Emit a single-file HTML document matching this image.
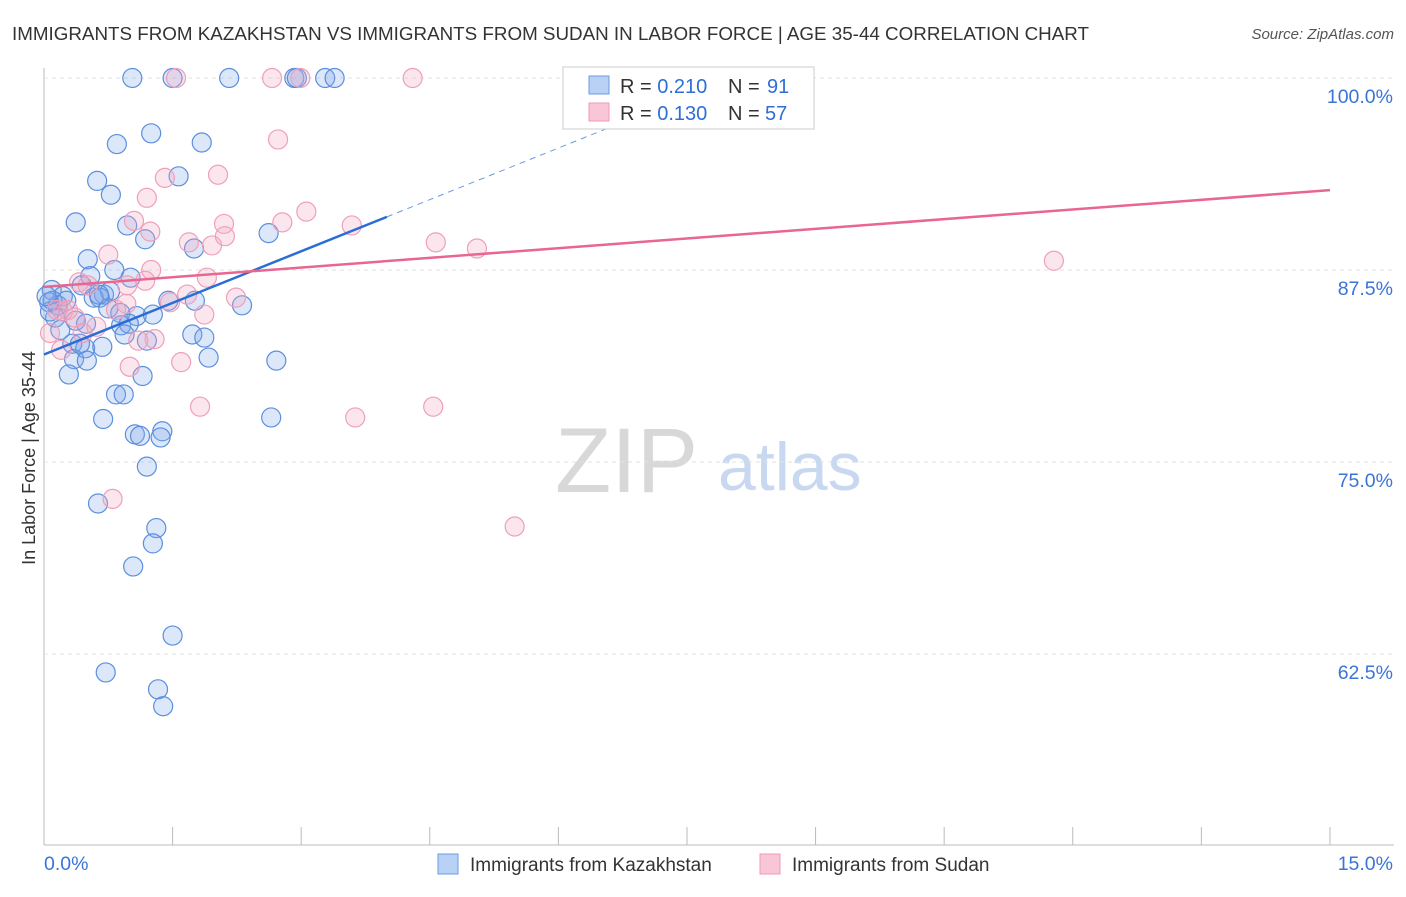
<!DOCTYPE html>
<html><head><meta charset="utf-8"><style>
body{margin:0;background:#fff;font-family:"Liberation Sans",sans-serif}
svg text{font-family:"Liberation Sans",sans-serif}
</style></head><body>
<svg id="chart" width="1406" height="892" xmlns="http://www.w3.org/2000/svg">
<text x="12" y="40" font-size="18.8" fill="#333" textLength="1077">IMMIGRANTS FROM KAZAKHSTAN VS IMMIGRANTS FROM SUDAN IN LABOR FORCE | AGE 35-44 CORRELATION CHART</text>
<text x="1394" y="39" font-size="15" fill="#555" font-style="italic" text-anchor="end">Source: ZipAtlas.com</text>
<text x="35" y="458" font-size="18" fill="#333" text-anchor="middle" transform="rotate(-90 35 458)">In Labor Force | Age 35-44</text>
<text x="555" y="492" font-size="92" fill="#d8d8d8" font-family="Liberation Serif">ZIP</text>
<text x="718" y="490" font-size="68" fill="#c8d8f0">atlas</text>
<g id="grid"></g><g id="pts"></g><g id="lines"></g>
<g>
<rect x="563" y="67" width="251" height="62" fill="#fff" stroke="#ccc"/>
<rect x="589" y="76" width="20" height="18" fill="#b9d1f5" stroke="#6a9be0"/>
<rect x="589" y="103" width="20" height="18" fill="#f8c6d6" stroke="#ee9ab5"/>
<text x="620" y="93" font-size="20" fill="#333">R = <tspan fill="#2e6fd6">0.210</tspan></text>
<text x="728" y="93" font-size="20" fill="#333">N =</text>
<text x="767" y="93" font-size="20" fill="#2e6fd6">91</text>
<text x="620" y="120" font-size="20" fill="#333">R = <tspan fill="#2e6fd6">0.130</tspan></text>
<text x="728" y="120" font-size="20" fill="#333">N =</text>
<text x="765" y="120" font-size="20" fill="#2e6fd6">57</text>
</g>
<g>
<rect x="438" y="854" width="20" height="20" fill="#b9d1f5" stroke="#6a9be0"/>
<text x="470" y="871" font-size="19" fill="#333">Immigrants from Kazakhstan</text>
<rect x="760" y="854" width="20" height="20" fill="#f8c6d6" stroke="#ee9ab5"/>
<text x="792" y="871" font-size="19" fill="#333">Immigrants from Sudan</text>
</g>
</svg>
<script>
const kazX=[1.03,1.50,2.16,2.92,2.95,3.28,3.39,1.25,0.85,1.84,0.62,1.57,0.78,0.37,0.97,1.18,2.62,1.75,0.51,1.01,0.54,0.82,0.44,0.09,0.22,0.70,0.58,0.77,0.65,1.45,1.76,2.31,0.75,1.08,1.27,0.89,0.16,0.06,0.13,0.37,0.19,0.49,0.90,0.99,0.94,1.20,1.73,1.87,0.33,0.48,0.68,0.35,0.50,1.92,2.71,0.29,1.15,0.84,0.93,0.69,2.65,1.06,1.12,1.38,1.36,1.20,0.63,1.31,1.27,1.04,1.50,0.72,1.33,1.39,0.07,0.10,0.26,0.03,0.42,0.64];
const kazY=[100,100,100,100,100,100,100,96.4,95.7,95.8,93.3,93.6,92.4,90.6,90.4,89.5,89.9,88.9,88.2,87.0,87.1,87.5,86.5,86.2,85.8,85.9,85.7,86.1,85.7,85.5,85.5,85.2,85.0,84.5,84.6,84.7,85.2,85.4,84.4,84.2,83.6,84.0,83.9,84.0,83.3,82.9,83.3,83.1,82.7,82.4,82.5,81.7,81.6,81.8,81.6,80.7,80.6,79.4,79.4,77.8,77.9,76.8,76.7,77.0,76.6,74.7,72.3,70.7,69.7,68.2,63.7,61.3,60.2,59.1,84.8,85.5,85.5,85.8,82.7,85.9];
const sudX=[1.54,2.66,2.99,4.30,2.73,2.03,1.41,1.20,3.06,1.05,2.10,3.59,2.78,1.69,1.96,4.57,5.05,11.78,0.75,1.25,1.90,1.18,0.41,1.67,2.24,1.47,0.96,0.84,1.87,0.22,0.28,0.61,0.45,1.29,1.10,0.20,1.60,1.00,1.82,3.63,4.54,0.80,5.49,0.51,0.15,0.36,0.97,1.24,2.11,0.07];
const sudY=[100,100,100,100,96.0,93.7,93.5,92.2,91.3,90.7,90.5,90.4,90.6,89.3,89.1,89.3,88.9,88.1,88.5,87.5,87.0,86.8,86.7,85.9,85.7,85.4,85.3,84.9,84.6,84.8,84.9,83.8,83.4,83.0,82.9,82.3,81.5,81.2,78.6,77.9,78.6,72.6,70.8,86.5,84.9,84.4,86.5,90.0,89.7,83.4];
const kazTrend=[82.0,2.24];
const sudTrend=[86.4,0.42];
const yTicks=[100,87.5,75,62.5];
const xTickVals=[0,1.5,3,4.5,6,7.5,9,10.5,12,13.5,15];
const NS='http://www.w3.org/2000/svg';
const sx=v=>44+v*85.73, sy=v=>78+(100-v)*15.36;
function mk(t,a,p){const e=document.createElementNS(NS,t);for(const k in a)e.setAttribute(k,a[k]);p.appendChild(e);return e;}
const grid=document.getElementById('grid');
let ax=mk('line',{x1:44,y1:68,x2:44,y2:845,stroke:'#bbb'},grid);


let bx=mk('line',{x1:44,y1:845,x2:1394,y2:845,stroke:'#bbb'},grid);


yTicks.forEach(v=>{
 const g=mk('line',{x1:44,x2:1394,y1:sy(v),y2:sy(v),stroke:'#e2e2e2','stroke-dasharray':'4,4'},grid);
 
 
 const t=mk('text',{x:1393,y:sy(v)+25,'font-size':19.5,fill:'#3a74d6','text-anchor':'end'},grid);
 t.textContent=v.toFixed(1)+'%';
 
 
});
xTickVals.forEach(v=>{
 const l=mk('line',{x1:sx(v),x2:sx(v),y1:827,y2:845,stroke:'#bbb'},grid);
 
 
});
[[0,'start','0.0%'],[15,'end','15.0%']].forEach(([v,a,s])=>{
 const t=mk('text',{x:v==0?44:1393,y:870,'font-size':19.5,fill:'#3a74d6','text-anchor':a},grid);
 t.textContent=s;
 
 
});
const pts=document.getElementById('pts');
kazX.forEach((x,i)=>{
 const c=mk('circle',{cx:sx(x),cy:sy(kazY[i]),r:9.5,fill:'rgba(130,170,235,0.28)',stroke:'#5b8fde','stroke-width':1.2},pts);
 
 
});
sudX.forEach((x,i)=>{
 const c=mk('circle',{cx:sx(x),cy:sy(sudY[i]),r:9.5,fill:'rgba(245,165,195,0.28)',stroke:'#ef9fb9','stroke-width':1.2},pts);
 
 
});
const lines=document.getElementById('lines');
const kf=x=>kazTrend[0]+kazTrend[1]*x, sf=x=>sudTrend[0]+sudTrend[1]*x;
let l1=mk('line',{x1:sx(0),y1:sy(kf(0)),x2:sx(4.0),y2:sy(kf(4.0)),stroke:'#2a6dd6','stroke-width':2.5},lines);


let l2=mk('line',{x1:sx(4.0),y1:sy(kf(4.0)),x2:sx(6.8),y2:sy(kf(6.8)),stroke:'#6a9be0','stroke-width':1,'stroke-dasharray':'6,5'},lines);


let l3=mk('line',{x1:sx(0),y1:sy(sf(0)),x2:sx(15),y2:sy(sf(15)),stroke:'#e8668f','stroke-width':2.5},lines);


</script>
</body></html>
